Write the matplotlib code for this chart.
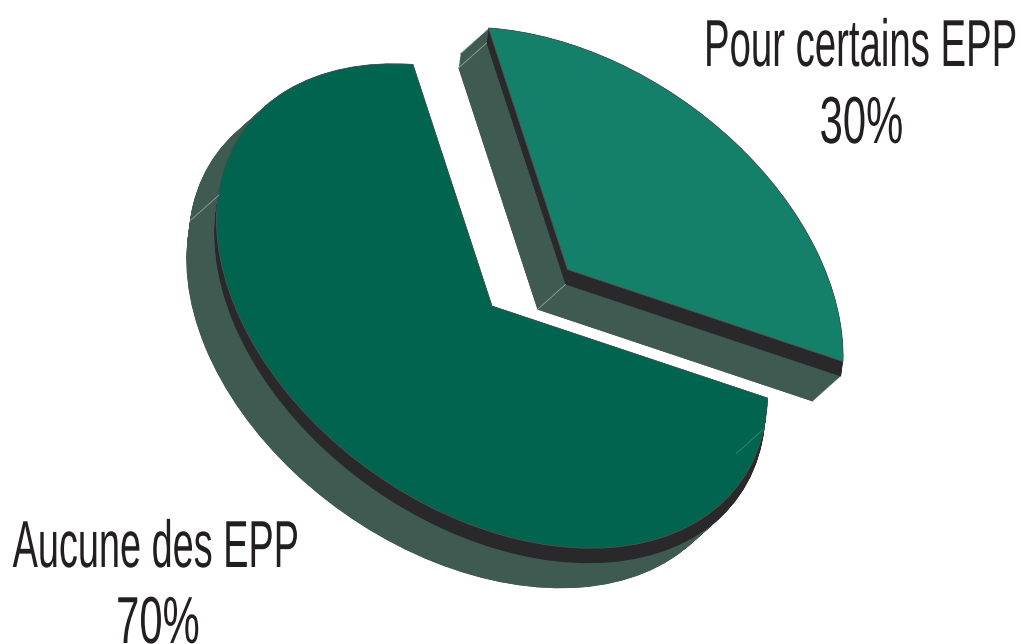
import numpy as np
import matplotlib
matplotlib.use("Agg")
import matplotlib.pyplot as plt
from matplotlib.patches import Wedge
from matplotlib.patheffects import AbstractPathEffect
from matplotlib.transforms import Affine2D

categories = ["Aucune des EPP", "Pour certains EPP"]
values = [70, 30]
value_labels = ["70%", "30%"]
top_colors = ["#00644f", "#15806a"]

DARK = "#29292b"
WALL = "#3f5a50"
LINE = "#8fa39b"
LINE_FAINT = "#2c8a73"
FONT = ["Liberation Sans", "DejaVu Sans"]
INK = "#231f20"

W, H = 1021, 644
fig = plt.figure(figsize=(W / 100, H / 100), dpi=100, facecolor="white")
ax = fig.add_axes([0, 0, 1, 1])
ax.set_xlim(0, W)
ax.set_ylim(H, 0)
ax.axis("off")

# projection of the unit pie circle onto the page
U = np.array([-79.0, -241.5])
V = np.array([275.5, 92.0])
total = sum(values)
small_sweep = 360.0 * values[1] / total
r = np.radians(small_sweep)
Wv = (V - np.cos(r) * U) / np.sin(r)

centers = [np.array([492.0, 306.0]), np.array([567.5, 269.5])]
spans = [(small_sweep, 360.0), (0.0, small_sweep)]

OFF_DARK = np.array([-2.0, 15.0])
OFF_MID = np.array([-28.0, 25.0])
OFF_END = np.array([-30.0, 40.0])
CREASE_ANGLES = [297.0, 112.0]


def proj(center, off=(0, 0)):
    return Affine2D.from_values(U[0], U[1], Wv[0], Wv[1],
                                center[0] + off[0], center[1] + off[1]) + ax.transData


def put(center, span, off, color, z, edge="none", lw=0):
    ax.add_patch(Wedge((0, 0), 1, span[0], span[1], transform=proj(center, off),
                       facecolor=color, edgecolor=edge, linewidth=lw, zorder=z))


def rim(center, t):
    t = np.radians(t)
    return center + U * np.cos(t) + Wv * np.sin(t)


def crease(p, color, z):
    a, b = p + OFF_DARK, p + OFF_END
    ax.plot([a[0], b[0]], [a[1], b[1]], color=color, lw=0.6, zorder=z)


for i, (c, sp) in enumerate(zip(centers, spans)):
    # wall: outline swept over the parallelogram of the two offsets
    for s in np.linspace(0, 1, 30):
        put(c, sp, OFF_MID * s, WALL, 1 + i * 10)
        put(c, sp, OFF_DARK + (OFF_END - OFF_DARK) * s, WALL, 1 + i * 10)
    for s in np.linspace(0, 1, 12):
        put(c, sp, OFF_MID + (OFF_END - OFF_MID) * s, WALL, 1 + i * 10)
    # dark band
    for s in np.linspace(0, 1, 16):
        put(c, sp, OFF_DARK * s, DARK, 2 + i * 10)
    put(c, sp, (0, 0), top_colors[i], 4 + i * 10, edge="#4a5552", lw=0.6)

# crease lines on the walls
crease(rim(centers[0], CREASE_ANGLES[0]), LINE, 5)
crease(rim(centers[0], CREASE_ANGLES[1]), LINE_FAINT, 5)
crease(rim(centers[1], 0.0), LINE, 15)
crease(centers[1], LINE, 15)


class Reshape(AbstractPathEffect):
    """Scale the glyphs of a text about its anchor, giving a tall condensed face."""

    def __init__(self, sx, sy, x0, y0, drop):
        super().__init__()
        self.m = Affine2D().translate(-x0, -y0).scale(sx, sy).translate(x0, y0 - drop)

    def draw_path(self, renderer, gc, tpath, affine, rgbFace=None):
        renderer.draw_path(gc, tpath, affine + self.m, rgbFace)


FONT_PT = 27.6
TALL = 1.733


def label(x, y, s, sx, drop=0):
    x0, y0 = ax.transData.transform((x, y - drop))
    ax.text(x, y - drop, s, ha="center", va="baseline", fontsize=FONT_PT, family=FONT,
            color=INK, zorder=20, clip_on=False,
            path_effects=[Reshape(sx, TALL, x0, y0, drop)])


# labels: (x, baseline, width factor, anchor lift kept inside the page)
name_xy = [(156, 567, 0.988, 0), (861, 66, 1.0, 0)]
value_xy = [(158, 643, 1.09, 10), (861.5, 143, 1.09, 0)]
for cat, val, (x1, y1, s1, d1), (x2, y2, s2, d2) in zip(categories, value_labels, name_xy, value_xy):
    label(x1, y1, cat, s1, d1)
    label(x2, y2, val, s2, d2)

fig.savefig("out.png", dpi=100, facecolor="white")
